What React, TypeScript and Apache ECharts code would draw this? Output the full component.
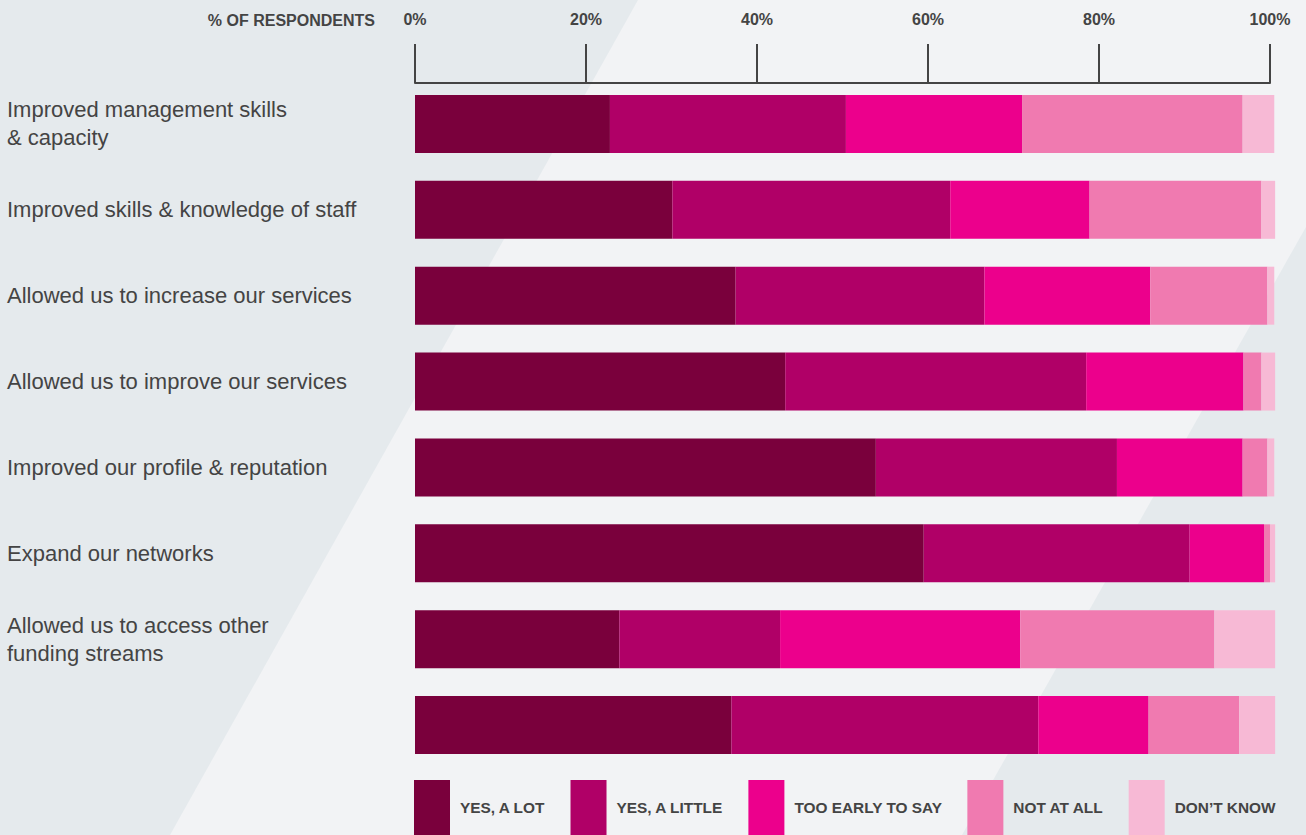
import React, { useEffect, useRef } from "react";
import * as echarts from "echarts";

const categories = [
  "Improved management skills\n& capacity",
  "Improved skills & knowledge of staff",
  "Allowed us to increase our services",
  "Allowed us to improve our services",
  "Improved our profile & reputation",
  "Expand our networks",
  "Allowed us to access other\nfunding streams",
  "",
];

const seriesNames = ["YES, A LOT", "YES, A LITTLE", "TOO EARLY TO SAY", "NOT AT ALL", "DON\u2019T KNOW"];
const seriesColors = ["#7a003c", "#b00067", "#ec008c", "#f07ab0", "#f7b9d5"];

const yesALot = [22.8, 30.1, 37.5, 43.3, 53.9, 59.5, 23.9, 37.0];
const yesALittle = [27.6, 32.5, 29.1, 35.2, 28.2, 31.1, 18.8, 35.9];
const tooEarly = [20.6, 16.3, 19.4, 18.4, 14.7, 8.7, 28.1, 12.9];
const notAtAll = [25.8, 20.1, 13.7, 2.1, 2.9, 0.7, 22.7, 10.6];
const dontKnow = [3.7, 1.6, 0.8, 1.6, 0.8, 0.6, 7.1, 4.2];

const seriesData = [yesALot, yesALittle, tooEarly, notAtAll, dontKnow];
const tickLabels = ["0%", "20%", "40%", "60%", "80%", "100%"];

const FONT = "'Liberation Sans', Arial, Helvetica, sans-serif";
const TEXT = "#444444";

export default function App() {
  const ref = useRef<HTMLDivElement>(null);
  useEffect(() => {
    if (!ref.current) return;
    const chart = echarts.init(ref.current, undefined, { renderer: "svg" });
    chart.setOption({
      animation: false,
      backgroundColor: "#f2f3f5",
      graphic: [
        {
          type: "polygon",
          z: -10,
          silent: true,
          shape: { points: [[0, 0], [638, 0], [170, 835], [0, 835]] },
          style: { fill: "#e5eaed" },
        },
        {
          type: "polygon",
          z: -10,
          silent: true,
          shape: { points: [[1306, 227], [1306, 835], [962, 835]] },
          style: { fill: "#e5eaed" },
        },
        {
          type: "text",
          x: 375,
          y: 28,
          style: {
            text: "% OF RESPONDENTS",
            fill: TEXT,
            font: `bold 16px ${FONT}`,
            textAlign: "right",
            textVerticalAlign: "bottom",
          },
        },
      ],
      grid: { left: 415, right: 36, top: 81, height: 687, containLabel: false },
      xAxis: {
        type: "value",
        position: "top",
        offset: -2,
        min: 0,
        max: 100,
        interval: 20,
        axisLine: { show: true, lineStyle: { color: TEXT, width: 2 } },
        axisTick: { show: true, length: 39, lineStyle: { color: TEXT, width: 2 } },
        splitLine: { show: false },
        axisLabel: {
          margin: 56,
          color: TEXT,
          fontWeight: "bold",
          fontSize: 16,
          fontFamily: FONT,
          showMinLabel: true,
          showMaxLabel: true,
          formatter: (v: number) => tickLabels[Math.round(v / 20)],
        },
      },
      yAxis: {
        type: "category",
        inverse: true,
        data: categories,
        axisLine: { show: false },
        axisTick: { show: false },
        axisLabel: {
          align: "left",
          margin: 408,
          color: TEXT,
          fontSize: 22,
          lineHeight: 28,
          fontFamily: FONT,
        },
      },
      legend: {
        top: 780,
        left: 414,
        padding: 0,
        itemWidth: 36,
        itemHeight: 55,
        itemGap: 25,
        icon: "rect",
        textStyle: {
          color: TEXT,
          fontWeight: "bold",
          fontSize: 15.4,
          fontFamily: FONT,
          padding: [0, 0, 0, 5],
        },
        data: seriesNames,
      },
      series: seriesData.map((d, i) => ({
        name: seriesNames[i],
        type: "bar",
        stack: "total",
        barWidth: 58,
        clip: false,
        itemStyle: { color: seriesColors[i] },
        data: d,
      })),
    });
    return () => chart.dispose();
  }, []);
  return (
    <div
      ref={ref}
      style={{ position: "fixed", left: 0, top: 0, width: 1306, height: 835 }}
    />
  );
}
